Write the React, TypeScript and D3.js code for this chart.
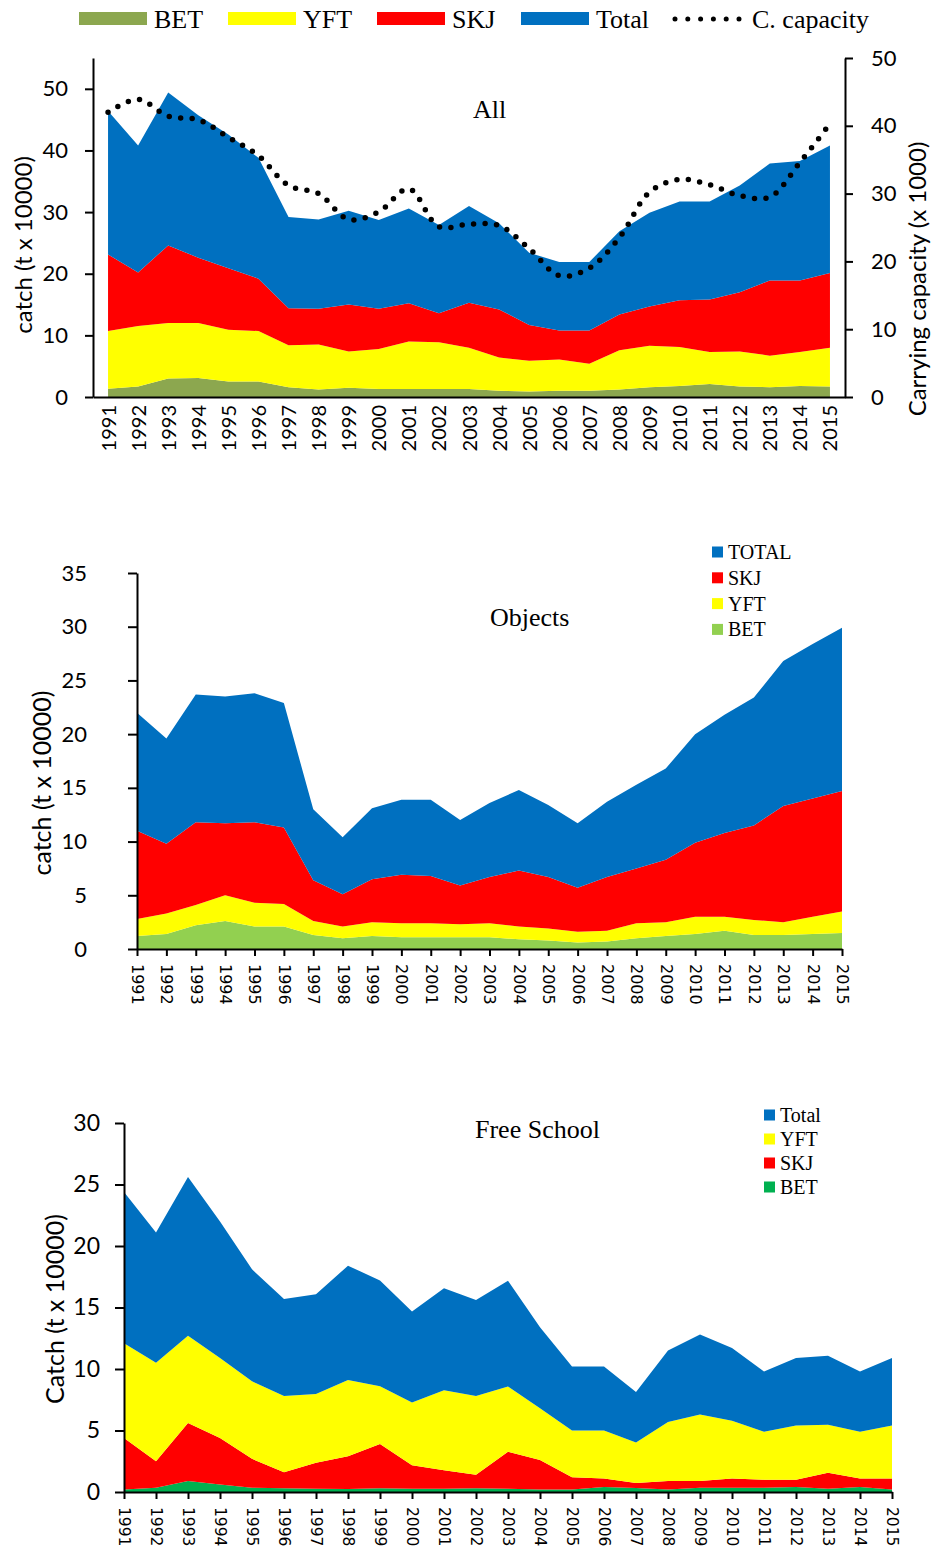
import React, { useEffect, useRef } from "react";
import * as d3 from "d3";

// year labels on the category axes
const years = [
  "1991", "1992", "1993", "1994", "1995", "1996", "1997", "1998", "1999", "2000",
  "2001", "2002", "2003", "2004", "2005", "2006", "2007", "2008", "2009", "2010",
  "2011", "2012", "2013", "2014", "2015",
];

// panel 1 - All (catch, t x 10000)
const allBET = [1.35, 1.7, 3.0, 3.1, 2.5, 2.5, 1.6, 1.2, 1.5, 1.3, 1.3, 1.3, 1.3, 1.0, 0.9, 1.0, 1.0, 1.2, 1.6, 1.8, 2.1, 1.7, 1.6, 1.8, 1.7];
const allYFT = [9.35, 9.8, 9.0, 8.9, 8.4, 8.2, 6.8, 7.3, 5.9, 6.5, 7.7, 7.6, 6.7, 5.4, 5.0, 5.1, 4.4, 6.4, 6.7, 6.3, 5.2, 5.7, 5.1, 5.5, 6.3];
const allSKJ = [12.4, 8.7, 12.6, 10.6, 10.0, 8.5, 6.0, 5.8, 7.6, 6.5, 6.2, 4.7, 7.3, 7.8, 5.8, 4.7, 5.4, 5.8, 6.4, 7.6, 8.5, 9.6, 12.2, 11.6, 12.1];
const allTotal = [23.3, 20.6, 24.8, 23.1, 21.7, 19.6, 14.8, 14.5, 15.2, 14.4, 15.4, 14.3, 15.7, 14.0, 11.7, 11.1, 11.1, 13.5, 15.2, 16.0, 15.9, 17.3, 19.0, 19.4, 20.7];
// carrying capacity (x 1000), right axis
const capacity = [42.0, 43.9, 41.4, 40.9, 38.3, 35.6, 31.2, 30.0, 26.2, 27.3, 30.7, 25.1, 25.5, 25.3, 21.9, 17.9, 19.0, 23.5, 30.2, 32.1, 31.3, 29.7, 29.5, 34.6, 40.3];

// panel 2 - Objects
const objBET = [1.2, 1.4, 2.2, 2.6, 2.1, 2.1, 1.3, 1.0, 1.2, 1.1, 1.1, 1.1, 1.1, 0.9, 0.8, 0.6, 0.7, 1.0, 1.2, 1.4, 1.7, 1.3, 1.3, 1.4, 1.5];
const objYFT = [1.6, 1.9, 1.9, 2.4, 2.2, 2.1, 1.3, 1.1, 1.3, 1.3, 1.3, 1.2, 1.3, 1.2, 1.1, 1.0, 1.0, 1.4, 1.3, 1.6, 1.3, 1.4, 1.2, 1.6, 2.0];
const objSKJ = [8.2, 6.5, 7.7, 6.7, 7.5, 7.1, 3.8, 3.0, 4.0, 4.5, 4.4, 3.6, 4.3, 5.2, 4.8, 4.1, 5.0, 5.1, 5.8, 6.9, 7.8, 8.8, 10.8, 11.0, 11.2];
const objTotal = [11.0, 9.8, 11.9, 11.8, 12.0, 11.6, 6.6, 5.3, 6.6, 7.0, 7.1, 6.1, 6.9, 7.5, 6.7, 6.0, 7.0, 7.8, 8.5, 10.1, 11.0, 11.9, 13.5, 14.4, 15.2];

// panel 3 - Free School
const fsBET = [0.2, 0.35, 0.9, 0.6, 0.35, 0.3, 0.27, 0.25, 0.3, 0.27, 0.27, 0.3, 0.27, 0.2, 0.2, 0.4, 0.33, 0.2, 0.35, 0.35, 0.35, 0.4, 0.27, 0.4, 0.2];
const fsSKJ = [4.2, 2.15, 4.7, 3.8, 2.35, 1.3, 2.1, 2.65, 3.6, 1.9, 1.5, 1.1, 3.0, 2.4, 1.0, 0.7, 0.4, 0.7, 0.55, 0.75, 0.65, 0.6, 1.3, 0.7, 0.9];
const fsYFT = [7.7, 8.0, 7.1, 6.5, 6.3, 6.2, 5.6, 6.2, 4.7, 5.1, 6.5, 6.4, 5.3, 4.2, 3.8, 3.9, 3.3, 4.8, 5.4, 4.7, 3.9, 4.4, 3.9, 3.8, 4.3];
const fsTotal = [12.3, 10.6, 12.9, 11.1, 9.1, 7.9, 8.1, 9.3, 8.6, 7.4, 8.3, 7.8, 8.6, 6.6, 5.2, 5.2, 4.1, 5.8, 6.5, 5.9, 4.9, 5.5, 5.6, 4.9, 5.5];

const BLUE = "#0070C0";
const RED = "#FF0000";
const YELLOW = "#FFFF00";
const SANS = "Lato, 'Open Sans', sans-serif";
const SERIF = "'Liberation Serif', 'Times New Roman', serif";

function drawStack(g, x, y, series, colors) {
  const keys = Object.keys(series);
  const table = years.map((yr, i) => {
    const row = { year: yr };
    keys.forEach((k) => (row[k] = series[k][i]));
    return row;
  });
  const stacked = d3.stack().keys(keys)(table);
  const area = d3
    .area()
    .x((d) => x(d.data.year))
    .y0((d) => y(d[0]))
    .y1((d) => y(d[1]));
  g.selectAll(null)
    .data(stacked)
    .enter()
    .append("path")
    .attr("d", area)
    .attr("fill", (d, i) => colors[i]);
}

function styleAxis(ax, font, size) {
  ax.selectAll("path, line").attr("stroke", "#000").attr("stroke-width", 2);
  ax.selectAll("text").attr("font-family", font).attr("font-size", size).attr("fill", "#000");
}

function drawAll(svg) {
  const g = svg.append("g");
  const x = d3.scalePoint().domain(years).range([93, 845]).padding(0.5);
  const yL = d3.scaleLinear().domain([0, 55]).range([397, 58]);
  const yR = d3.scaleLinear().domain([0, 50]).range([397, 58]);

  drawStack(g, x, yL, { BET: allBET, YFT: allYFT, SKJ: allSKJ, Total: allTotal }, ["#8CA74F", YELLOW, RED, BLUE]);

  const line = d3
    .line()
    .x((d, i) => x(years[i]))
    .y((d) => yR(d))
    .curve(d3.curveCatmullRom);
  g.append("path")
    .attr("d", line(capacity))
    .attr("fill", "none")
    .attr("stroke", "#000")
    .attr("stroke-width", 5.5)
    .attr("stroke-linecap", "round")
    .attr("stroke-dasharray", "0 11.5");

  const left = g
    .append("g")
    .attr("transform", "translate(93,0)")
    .call(d3.axisLeft(yL).tickValues([0, 10, 20, 30, 40, 50]).tickSize(8).tickSizeOuter(0).tickPadding(17));
  styleAxis(left, SANS, 22);

  const right = g
    .append("g")
    .attr("transform", "translate(845,0)")
    .call(d3.axisRight(yR).tickValues([0, 10, 20, 30, 40, 50]).tickSize(8).tickSizeOuter(0).tickPadding(18));
  styleAxis(right, SANS, 22);

  const bottom = g
    .append("g")
    .attr("transform", "translate(0,397)")
    .call(d3.axisBottom(x).tickSize(0).tickSizeOuter(0));
  styleAxis(bottom, SANS, 20);
  bottom
    .selectAll("text")
    .attr("transform", "rotate(-90)")
    .attr("x", -8)
    .attr("y", 0)
    .attr("dy", "0.35em")
    .attr("text-anchor", "end");

  g.append("text")
    .attr("transform", "translate(32,245) rotate(-90)")
    .attr("text-anchor", "middle")
    .attr("font-family", SANS)
    .attr("font-size", 24)
    .text("catch (t x 10000)");
  g.append("text")
    .attr("transform", "translate(926,279) rotate(-90)")
    .attr("text-anchor", "middle")
    .attr("font-family", SANS)
    .attr("font-size", 24)
    .text("Carrying capacity (x 1000)");
  g.append("text")
    .attr("x", 473)
    .attr("y", 118)
    .attr("font-family", SERIF)
    .attr("font-size", 26)
    .text("All");

  // legend row on top
  const legend = [
    { name: "BET", color: "#8CA74F", x: 79 },
    { name: "YFT", color: YELLOW, x: 228 },
    { name: "SKJ", color: RED, x: 377 },
    { name: "Total", color: BLUE, x: 521 },
  ];
  legend.forEach((l) => {
    g.append("rect").attr("x", l.x).attr("y", 12).attr("width", 68).attr("height", 13).attr("fill", l.color);
    g.append("text")
      .attr("x", l.x + 75)
      .attr("y", 28)
      .attr("font-family", SERIF)
      .attr("font-size", 26)
      .text(l.name);
  });
  g.append("line")
    .attr("x1", 675)
    .attr("x2", 740)
    .attr("y1", 19)
    .attr("y2", 19)
    .attr("stroke", "#000")
    .attr("stroke-width", 5)
    .attr("stroke-linecap", "round")
    .attr("stroke-dasharray", "0 12.8");
  g.append("text")
    .attr("x", 752)
    .attr("y", 28)
    .attr("font-family", SERIF)
    .attr("font-size", 26)
    .text("C. capacity");
}

function drawPanel(svg, opts) {
  const g = svg.append("g");
  const x = d3.scalePoint().domain(years).range([opts.x0, opts.x1]);
  const y = d3.scaleLinear().domain([0, opts.max]).range([opts.y0, opts.y1]);

  drawStack(g, x, y, opts.series, opts.colors);

  const left = g
    .append("g")
    .attr("transform", `translate(${opts.x0},0)`)
    .call(d3.axisLeft(y).ticks(opts.max / 5).tickSize(9).tickSizeOuter(0).tickPadding(opts.pad));
  styleAxis(left, SANS, opts.tickFont);

  const bottom = g
    .append("g")
    .attr("transform", `translate(0,${opts.y0})`)
    .call(d3.axisBottom(x).tickSize(7).tickSizeOuter(0));
  styleAxis(bottom, "'DejaVu Sans', sans-serif", opts.yearFont);
  bottom
    .selectAll("text")
    .attr("transform", "rotate(90)")
    .attr("x", 15)
    .attr("y", 0)
    .attr("dy", "0.35em")
    .attr("text-anchor", "start");

  g.append("text")
    .attr("transform", `translate(${opts.labelX},${opts.labelY}) rotate(-90)`)
    .attr("text-anchor", "middle")
    .attr("font-family", SANS)
    .attr("font-size", opts.labelFont)
    .text(opts.label);
  g.append("text")
    .attr("x", opts.titleX)
    .attr("y", opts.titleY)
    .attr("font-family", SERIF)
    .attr("font-size", 26)
    .text(opts.title);

  opts.legend.forEach((l, i) => {
    const cy = opts.legY + i * opts.legStep;
    g.append("rect").attr("x", opts.legX).attr("y", cy - 5.5).attr("width", 11).attr("height", 11).attr("fill", l.color);
    g.append("text")
      .attr("x", opts.legX + 16)
      .attr("y", cy + 7)
      .attr("font-family", SERIF)
      .attr("font-size", 20)
      .text(l.name);
  });
}

export default function App() {
  const ref = useRef(null);

  useEffect(() => {
    const svg = d3.select(ref.current);
    svg.selectAll("*").remove();
    drawAll(svg);

    drawPanel(svg, {
      x0: 137, x1: 842, y0: 949, y1: 573, max: 35, pad: 41, tickFont: 22, yearFont: 16,
      series: { BET: objBET, YFT: objYFT, SKJ: objSKJ, TOTAL: objTotal },
      colors: ["#92D050", YELLOW, RED, BLUE],
      label: "catch (t x 10000)", labelX: 51, labelY: 783, labelFont: 25,
      title: "Objects", titleX: 490, titleY: 626,
      legX: 712, legY: 552, legStep: 25.8,
      legend: [
        { name: "TOTAL", color: BLUE },
        { name: "SKJ", color: RED },
        { name: "YFT", color: YELLOW },
        { name: "BET", color: "#92D050" },
      ],
    });

    drawPanel(svg, {
      x0: 124, x1: 892, y0: 1492, y1: 1123, max: 30, pad: 15, tickFont: 23, yearFont: 15.5,
      series: { BET: fsBET, SKJ: fsSKJ, YFT: fsYFT, Total: fsTotal },
      colors: ["#00B050", RED, YELLOW, BLUE],
      label: "Catch (t x 10000)", labelX: 64, labelY: 1309, labelFont: 25,
      title: "Free School", titleX: 475, titleY: 1138,
      legX: 764, legY: 1115, legStep: 24,
      legend: [
        { name: "Total", color: BLUE },
        { name: "YFT", color: YELLOW },
        { name: "SKJ", color: RED },
        { name: "BET", color: "#00B050" },
      ],
    });
  }, []);

  return (
    <svg
      ref={ref}
      width={935}
      height={1550}
      style={{ position: "absolute", left: 0, top: 0, background: "#fff" }}
    />
  );
}
